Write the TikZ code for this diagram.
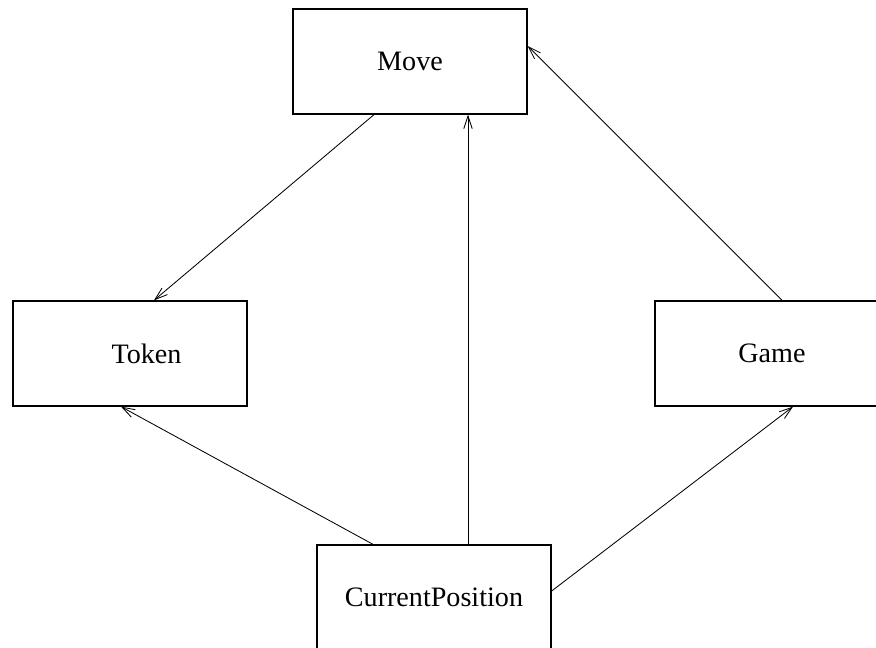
\documentclass[tikz,border=0pt]{standalone}
\usepackage{fontspec}
\setmainfont{Liberation Serif}
\usetikzlibrary{arrows.meta,calc}
\tikzset{
  classbox/.style={draw, line width=0.9pt, minimum width=5.85cm, minimum height=2.625cm,
    inner sep=0pt, font=\fontsize{20}{24}\selectfont},
  link/.style={line width=0.6pt, -{Straight Barb[length=9pt,width=6pt]}}
}
\begin{document}
\begin{tikzpicture}[x=0.025cm, y=-0.025cm]
      \useasboundingbox (0,0) rectangle (876,648);
      \clip (0,0) rectangle (876,648);
      \node[classbox] (move) at (410,61.5) {Move};
      \node[classbox] (token) at (130,353.5) {\hspace{26\pgflinewidth}Token};
      \node[classbox] (game) at (772,353.5) {Game};
      \node[classbox] (curpos) at (434,597.5) {CurrentPosition};
      \begin{scope}[link]
        \draw ($(move.south)+(-36,0)$) to ($(token.north)+(24,0)$);
        \draw ($(curpos.north)+(34,0)$) to ($(move.south)+(58,0)$);
        \draw ($(game.north)+(10,0)$) to ($(move.east)+(0,-15.5)$);
        \draw ($(curpos.north)+(-61,0)$) to ($(token.south)+(-9,0)$);
        \draw ($(curpos.east)+(0,-6.5)$) to ($(game.south)+(21,0)$);
      \end{scope}
    \end{tikzpicture}
\end{document}
